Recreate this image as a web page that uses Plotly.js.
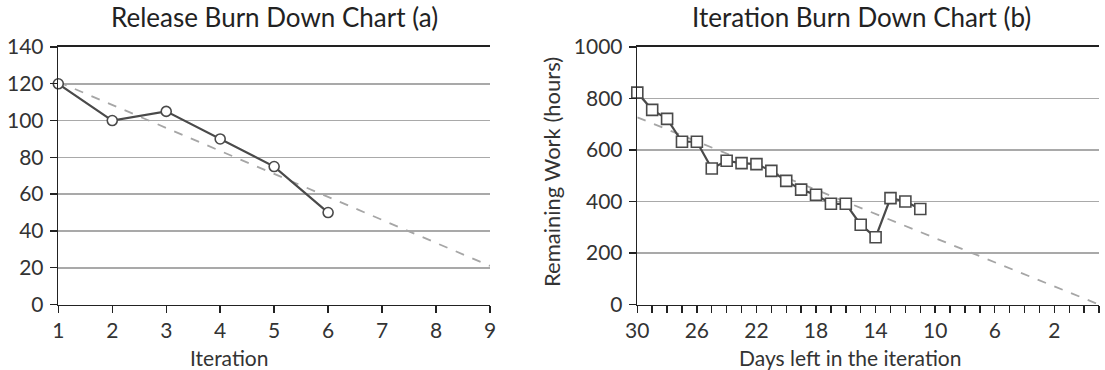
<!DOCTYPE html>
<html>
<head>
<meta charset="utf-8">
<script src="https://cdn.plot.ly/plotly-3.0.1.min.js"></script>
<style>html,body{margin:0;padding:0;background:#fff;}#chart{width:1105px;height:370px;}</style>
</head>
<body>
<div id="chart"></div>
<script>
// ---- Data ----
const iterations = [1, 2, 3, 4, 5, 6];
const releaseWork = [120, 100, 105, 90, 75, 50];
const releaseIdealX = [1, 9];
const releaseIdealY = [121, 21];

const daysLeft = [30, 29, 28, 27, 26, 25, 24, 23, 22, 21, 20, 19, 18, 17, 16, 15, 14, 13, 12, 11];
const remainingHours = [823, 756, 721, 632, 632, 528, 558, 549, 545, 519, 480, 446, 426, 391, 391, 310, 261, 413, 400, 371];
const iterIdealX = [30, -1];
const iterIdealY = [727, 0];

const titleA = "Release Burn Down Chart (a)";
const titleB = "Iteration Burn Down Chart (b)";
const xTitleA = "Iteration";
const xTitleB = "Days left in the iteration";
const yTitleB = "Remaining Work (hours)";

// ---- Styling ----
const W = 1105, H = 370;
const FONT = "Lato, 'Open Sans', sans-serif";
const TXT = "#333333";
const px = v => v / W, py = v => 1 - v / H;

const lineCol = "#4a4a4a";
const dashCol = "#a6a6a6";

const traces = [
  {x: releaseIdealX, y: releaseIdealY, xaxis: "x", yaxis: "y", mode: "lines",
   line: {color: dashCol, width: 1.8, dash: "dash"}, hoverinfo: "skip", cliponaxis: false},
  {x: iterations, y: releaseWork, xaxis: "x", yaxis: "y", mode: "lines+markers",
   line: {color: lineCol, width: 2.2},
   marker: {symbol: "circle", size: 10, color: "#fff", line: {color: lineCol, width: 1.6}}, cliponaxis: false},
  {x: iterIdealX, y: iterIdealY, xaxis: "x2", yaxis: "y2", mode: "lines",
   line: {color: dashCol, width: 1.8, dash: "dash"}, hoverinfo: "skip", cliponaxis: false},
  {x: daysLeft, y: remainingHours, xaxis: "x2", yaxis: "y2", mode: "lines+markers",
   line: {color: lineCol, width: 2.2},
   marker: {symbol: "square", size: 11, color: "#fff", line: {color: lineCol, width: 1.6}}, cliponaxis: false}
];

const yTop = 47, yBot = 304.5;
const axCommon = {
  showline: true, linecolor: "#222", linewidth: 1.6,
  ticks: "outside", ticklen: 7, tickwidth: 1.4, tickcolor: "#222",
  tickfont: {family: FONT, size: 21, color: TXT},
  zeroline: false, fixedrange: true
};

const layout = {
  width: W, height: H,
  margin: {l: 0, r: 0, t: 0, b: 0},
  paper_bgcolor: "#fff", plot_bgcolor: "#fff",
  showlegend: false,
  font: {family: FONT, color: TXT},
  xaxis: Object.assign({}, axCommon, {
    domain: [px(58.3), px(490)], anchor: "y",
    range: [1, 9], tick0: 1, dtick: 1, showgrid: false, mirror: true
  }),
  yaxis: Object.assign({}, axCommon, {
    domain: [py(yBot), py(yTop)], anchor: "x",
    range: [0, 140], tick0: 0, dtick: 20,
    showgrid: true, gridcolor: "#a9a9a9", gridwidth: 1.6, ticklabelstandoff: 2
  }),
  xaxis2: Object.assign({}, axCommon, {
    domain: [px(637.3), px(1099)], anchor: "y2",
    range: [30, -1], tick0: 30, dtick: 4, showgrid: false, mirror: true,
    minor: {dtick: 1, ticks: "outside", ticklen: 7, tickwidth: 1.4, tickcolor: "#222", showgrid: false}
  }),
  yaxis2: Object.assign({}, axCommon, {
    domain: [py(yBot), py(yTop)], anchor: "x2",
    range: [0, 1000], tick0: 0, dtick: 200,
    showgrid: true, gridcolor: "#a9a9a9", gridwidth: 1.6, ticklabelstandoff: 2
  }),
  annotations: [
    {text: titleA, xref: "paper", yref: "paper", x: px(274), y: py(17), xanchor: "center", yanchor: "middle",
     showarrow: false, font: {family: FONT, size: 26, color: "#222"}},
    {text: titleB, xref: "paper", yref: "paper", x: px(861), y: py(17), xanchor: "center", yanchor: "middle",
     showarrow: false, font: {family: FONT, size: 26, color: "#222"}},
    {text: xTitleA, xref: "paper", yref: "paper", x: px(229), y: py(357), xanchor: "center", yanchor: "middle",
     showarrow: false, font: {family: FONT, size: 21, color: TXT}},
    {text: xTitleB, xref: "paper", yref: "paper", x: px(850), y: py(357), xanchor: "center", yanchor: "middle",
     showarrow: false, font: {family: FONT, size: 21, color: TXT}},
    {text: yTitleB, xref: "paper", yref: "paper", x: px(551), y: py(172), xanchor: "center", yanchor: "middle",
     textangle: -90, showarrow: false, font: {family: FONT, size: 22, color: TXT}}
  ]
};

Plotly.newPlot("chart", traces, layout, {staticPlot: true, displayModeBar: false});
</script>
</body>
</html>
